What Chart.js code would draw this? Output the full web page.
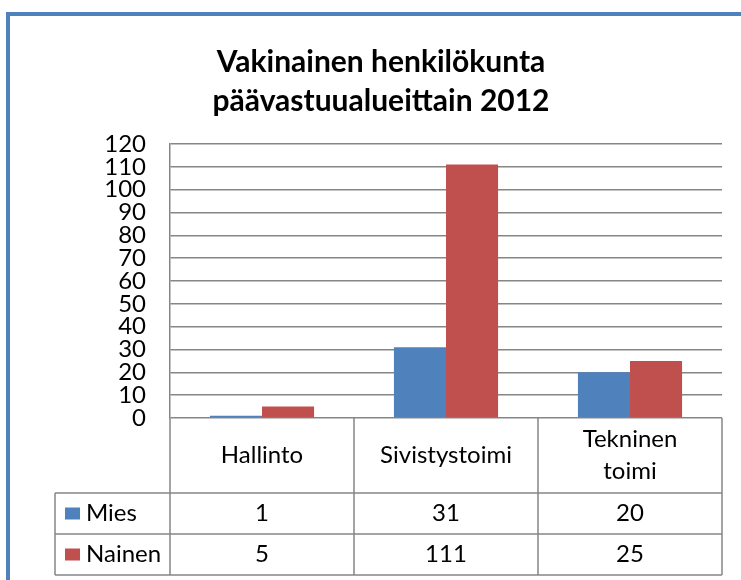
<!DOCTYPE html>
<html>
<head>
<meta charset="utf-8">
<script src="https://cdn.jsdelivr.net/npm/chart.js@4"></script>
<style>
  html, body { margin: 0; padding: 0; overflow: hidden; background: #fff; }
  #frame {
    position: absolute; left: 6px; top: 12px; width: 900px; height: 800px;
    border-left: 4px solid #4F81BD; border-top: 4px solid #4F81BD;
    background: #fff;
  }
  #wrap { position: absolute; left: 0; top: 0; width: 741px; height: 580px; }
</style>
</head>
<body>
<div id="frame"></div>
<div id="wrap"><canvas id="chart" width="741" height="580"></canvas></div>
<script>
// Data
const categories = [['Hallinto'], ['Sivistystoimi'], ['Tekninen', 'toimi']];
const seriesNames = ['Mies', 'Nainen'];
const miesValues = [1, 31, 20];
const nainenValues = [5, 111, 25];
const seriesColors = ['#4F81BD', '#C0504D'];
const titleLines = ['Vakinainen henkilökunta', 'päävastuualueittain 2012'];

const FONT = 'Lato, Calibri, sans-serif';
const GRID = '#868686';

// draws the data table under the plot (Excel style)
const dataTable = {
  id: 'dataTable',
  afterDraw(chart) {
    const ctx = chart.ctx;
    const area = chart.chartArea;
    const xs = chart.scales.x;
    const n = categories.length;
    const colW = (area.right - area.left) / n;
    const top = area.bottom;
    const headBottom = 493;
    const rowH = 41;
    const tableLeft = 55;
    const bottom = headBottom + rowH * chart.data.datasets.length;

    ctx.save();
    ctx.strokeStyle = GRID;
    ctx.lineWidth = 1.5;
    ctx.beginPath();
    // vertical lines
    for (let i = 0; i <= n; i++) {
      const x = area.left + colW * i;
      ctx.moveTo(x, top);
      ctx.lineTo(x, bottom);
    }
    ctx.moveTo(tableLeft, headBottom);
    ctx.lineTo(tableLeft, bottom);
    // horizontal lines
    for (let r = 0; r <= chart.data.datasets.length; r++) {
      const y = headBottom + rowH * r;
      ctx.moveTo(tableLeft, y);
      ctx.lineTo(area.right, y);
    }
    ctx.stroke();

    ctx.fillStyle = '#000';
    ctx.font = '24px ' + FONT;
    ctx.textAlign = 'center';
    ctx.textBaseline = 'middle';
    // category header
    categories.forEach((lines, i) => {
      const cx = xs.getPixelForValue(i);
      const cy = (top + headBottom) / 2;
      const lh = 32;
      lines.forEach((t, k) => {
        ctx.fillText(t, cx, cy + (k - (lines.length - 1) / 2) * lh);
      });
    });
    // rows
    chart.data.datasets.forEach((ds, r) => {
      const cy = headBottom + rowH * r + rowH / 2;
      ctx.fillStyle = ds.backgroundColor;
      ctx.fillRect(65, cy - 6, 15, 12);
      ctx.fillStyle = '#000';
      ctx.textAlign = 'left';
      ctx.fillText(ds.label, 86, cy);
      ctx.textAlign = 'center';
      ds.data.forEach((v, i) => {
        ctx.fillText(String(v), xs.getPixelForValue(i), cy);
      });
    });
    ctx.restore();
  }
};

new Chart(document.getElementById('chart'), {
  type: 'bar',
  data: {
    labels: categories.map(c => c.join(' ')),
    datasets: [
      { label: seriesNames[0], data: miesValues, backgroundColor: seriesColors[0] },
      { label: seriesNames[1], data: nainenValues, backgroundColor: seriesColors[1] }
    ]
  },
  options: {
    responsive: false,
    animation: false,
    layout: { padding: { left: 40, right: 19, top: 0, bottom: 162 } },
    datasets: { bar: { categoryPercentage: 0.566, barPercentage: 1.0 } },
    scales: {
      x: { display: false },
      y: {
        min: 0, max: 120,
        afterFit(scale) { scale.width = 130; },
        ticks: {
          stepSize: 10, autoSkip: false, color: '#000', padding: 24,
          font: { family: FONT, size: 24, lineHeight: 1 }
        },
        grid: { color: GRID, lineWidth: 1.5, drawTicks: false },
        border: { color: GRID, width: 1.5 }
      }
    },
    plugins: {
      legend: { display: false },
      tooltip: { enabled: false },
      title: {
        display: true,
        text: titleLines,
        color: '#000',
        font: { family: FONT, size: 30, weight: 'bold', lineHeight: 1.3 },
        padding: { top: 43, bottom: 23 }
      }
    }
  },
  plugins: [dataTable]
});
</script>
</body>
</html>
